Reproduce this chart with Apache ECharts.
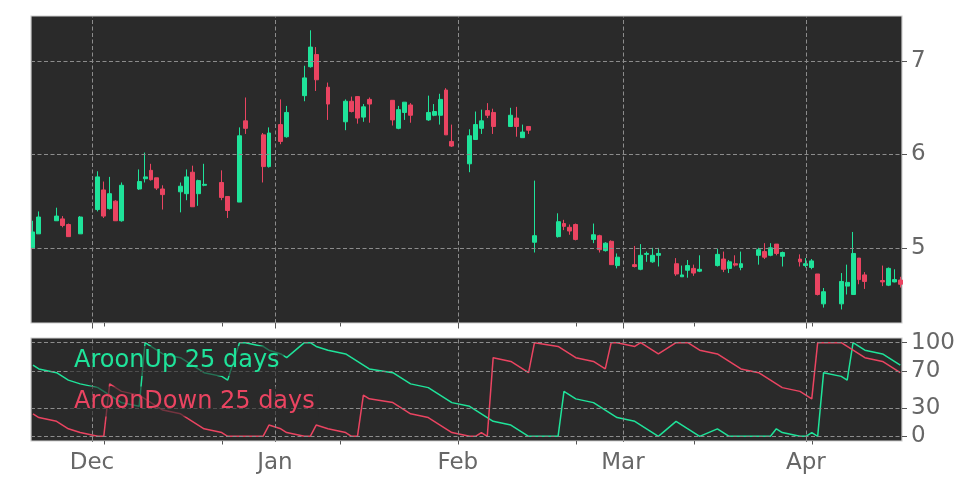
<!DOCTYPE html>
<html><head><meta charset="utf-8">
<script src="https://cdn.jsdelivr.net/npm/echarts@6/dist/echarts.min.js"></script>
<style>html,body{margin:0;padding:0;background:#fff}#c{width:972px;height:486px}</style>
</head><body><div id="c"></div>
<script>
const dates = [
 '2024-11-21','2024-11-22','2024-11-25','2024-11-26','2024-11-27','2024-11-29',
 '2024-12-02','2024-12-03','2024-12-04','2024-12-05','2024-12-06','2024-12-09','2024-12-10','2024-12-11','2024-12-12','2024-12-13',
 '2024-12-16','2024-12-17','2024-12-18','2024-12-19','2024-12-20','2024-12-23','2024-12-24','2024-12-26','2024-12-27','2024-12-30','2024-12-31',
 '2025-01-02','2025-01-03','2025-01-06','2025-01-07','2025-01-08','2025-01-10','2025-01-13','2025-01-14','2025-01-15','2025-01-16','2025-01-17',
 '2025-01-21','2025-01-22','2025-01-23','2025-01-24','2025-01-27','2025-01-28','2025-01-29','2025-01-30','2025-01-31',
 '2025-02-03','2025-02-04','2025-02-05','2025-02-06','2025-02-07','2025-02-10','2025-02-11','2025-02-12','2025-02-13','2025-02-14',
 '2025-02-18','2025-02-19','2025-02-20','2025-02-21','2025-02-24','2025-02-25','2025-02-26','2025-02-27','2025-02-28',
 '2025-03-03','2025-03-04','2025-03-05','2025-03-06','2025-03-07','2025-03-10','2025-03-11','2025-03-12','2025-03-13','2025-03-14',
 '2025-03-17','2025-03-18','2025-03-19','2025-03-20','2025-03-21','2025-03-24','2025-03-25','2025-03-26','2025-03-27','2025-03-28','2025-03-31',
 '2025-04-01','2025-04-02','2025-04-03','2025-04-04','2025-04-07','2025-04-08','2025-04-09','2025-04-10','2025-04-11',
 '2025-04-14','2025-04-15','2025-04-16','2025-04-17'
];
const opens = [
 5.00,5.15,5.29,5.31,5.25,5.15,
 5.41,5.62,5.42,5.50,5.29,5.63,5.74,5.83,5.75,5.63,
 5.60,5.58,5.81,5.58,5.67,5.70,5.55,5.49,6.36,6.21,5.87,
 6.32,6.19,6.63,6.94,7.07,6.72,6.35,6.57,6.62,6.40,6.59,
 6.58,6.28,6.45,6.53,6.37,6.42,6.42,6.69,6.14,
 5.90,6.16,6.28,6.47,6.45,6.30,6.39,6.18,6.30,5.06,
 5.12,5.26,5.22,5.25,5.09,5.13,4.97,5.07,4.81,
 4.82,4.77,4.93,4.85,4.92,4.83,4.69,4.76,4.78,4.75,
 4.81,4.88,4.78,4.83,4.79,4.92,4.96,4.92,5.04,4.91,4.88,
 4.81,4.79,4.72,4.40,4.40,4.59,4.50,4.89,4.71,
 4.65,4.60,4.635,4.655
];
const closes = [
 5.17,5.33,5.34,5.24,5.12,5.33,
 5.76,5.34,5.58,5.29,5.67,5.71,5.76,5.73,5.64,5.57,
 5.66,5.76,5.44,5.72,5.68,5.54,5.40,6.20,6.28,5.87,6.23,
 6.14,6.45,6.82,7.15,6.80,6.54,6.57,6.46,6.39,6.51,6.54,
 6.37,6.48,6.56,6.42,6.45,6.46,6.59,6.21,6.09,
 6.20,6.32,6.36,6.42,6.30,6.42,6.30,6.24,6.26,5.13,
 5.28,5.23,5.18,5.09,5.14,4.98,5.05,4.82,4.90,
 4.80,4.92,4.94,4.92,4.94,4.72,4.71,4.81,4.73,4.77,
 4.93,4.77,4.85,4.815,4.83,4.98,4.90,5.00,4.94,4.95,4.85,
 4.83,4.86,4.50,4.53,4.64,4.63,4.94,4.66,4.64,
 4.635,4.78,4.66,4.61
];
const lows = [
 4.99,5.15,5.29,5.22,5.12,5.15,
 5.39,5.32,5.41,5.29,5.28,5.62,5.70,5.72,5.62,5.41,
 5.38,5.51,5.44,5.45,5.66,5.51,5.32,5.49,6.22,5.70,5.86,
 6.11,6.18,6.57,6.93,6.68,6.37,6.26,6.45,6.33,6.35,6.34,
 6.31,6.27,6.37,6.34,6.36,6.41,6.32,6.21,6.08,
 5.81,6.16,6.22,6.39,6.22,6.30,6.19,6.18,6.22,4.95,
 5.11,5.19,5.14,5.08,5.05,4.95,4.96,4.82,4.78,
 4.79,4.76,4.85,4.84,4.80,4.70,4.69,4.68,4.70,4.74,
 4.80,4.74,4.73,4.80,4.76,4.82,4.88,4.91,4.92,4.80,4.80,
 4.79,4.77,4.49,4.36,4.34,4.50,4.50,4.61,4.56,
 4.59,4.59,4.63,4.575
];
const highs = [
 5.29,5.39,5.43,5.34,5.26,5.34,
 5.82,5.71,5.76,5.51,5.70,5.84,6.02,5.90,5.75,5.67,
 5.70,5.84,5.88,5.73,5.90,5.83,5.55,6.29,6.61,6.23,6.29,
 6.59,6.52,6.95,7.33,7.15,6.77,6.59,6.62,6.62,6.54,6.61,
 6.58,6.52,6.56,6.55,6.63,6.54,6.65,6.71,6.32,
 6.27,6.46,6.48,6.55,6.49,6.50,6.51,6.32,6.30,5.72,
 5.37,5.30,5.25,5.26,5.26,5.14,5.06,5.08,4.94,
 5.02,5.04,4.96,5.00,5.00,4.89,4.81,4.87,4.82,4.92,
 4.99,4.96,4.87,4.92,4.96,5.00,5.05,5.05,5.04,4.96,4.93,
 4.89,4.88,4.72,4.57,4.73,4.82,5.17,4.89,4.74,
 4.81,4.79,4.77,4.69
];
const aroonUp = [
 76,72,68,64,60,56,
 52,48,44,40,36,32,100,96,92,88,
 84,80,76,72,68,64,60,100,100,96,92,
 88,84,100,100,96,92,88,84,80,76,72,
 68,64,60,56,52,48,44,40,36,
 32,28,24,20,16,12,8,4,0,0,
 0,48,44,40,36,32,28,24,20,
 16,12,8,4,0,16,12,8,4,0,
 8,4,0,0,0,0,0,0,8,4,0,
 0,4,0,68,64,60,100,96,92,
 88,84,80,76
];
const aroonDown = [
 24,20,16,12,8,4,
 0,0,56,52,48,44,40,36,32,28,
 24,20,16,12,8,4,0,0,0,0,12,
 8,4,0,0,12,8,4,0,0,44,40,
 36,32,28,24,20,16,12,8,4,
 0,0,4,0,84,80,76,72,68,100,
 96,92,88,84,80,76,72,100,100,
 96,100,96,92,88,100,100,100,96,92,
 88,84,80,76,72,68,64,60,56,52,48,
 44,40,100,100,100,96,92,88,84,
 80,76,72,68
];
const monthTicks = ['2024-12-01','2025-01-01','2025-02-01','2025-03-01','2025-04-01'];
const monthNames = ['Jan','Feb','Mar','Apr','May','Jun','Jul','Aug','Sep','Oct','Nov','Dec'];
const minorTicks = ['2024-12-03','2024-12-23','2025-01-12','2025-02-01','2025-02-21','2025-03-13','2025-04-02'];
const priceTicks = [5, 6, 7];
const aroonTicks = [0, 30, 70, 100];
const legendLabels = ['AroonUp 25 days', 'AroonDown 25 days'];

const UP = '#1fe39a', DOWN = '#ea4461', BG = '#2a2a2a', GRIDC = '#8c8c8c', TXT = '#676767';
function ts(s) { const p = s.split('-'); return new Date(+p[0], +p[1] - 1, +p[2]).getTime(); }
const H = 3600 * 1000;
const XMIN = ts('2024-11-20') + 16 * H, XMAX = ts('2025-04-17') + 7 * H;
const majorTs = monthTicks.map(ts), minorTs = minorTicks.map(ts);

const candles = dates.map((d, i) => [ts(d), opens[i], closes[i], lows[i], highs[i]]);
const upLine = dates.map((d, i) => [ts(d), aroonUp[i]]);
const downLine = dates.map((d, i) => [ts(d), aroonDown[i]]);

const FONT = 'DejaVu Sans';
function xMain(gi, labels) {
  return {
    type: 'value', gridIndex: gi, min: XMIN, max: XMAX, position: 'bottom', scale: true,
    axisLine: { show: false },
    axisTick: { show: true, customValues: majorTs, length: 5.5, lineStyle: { color: '#555', width: 1 } },
    axisLabel: labels ? {
      show: true, customValues: majorTs, fontSize: 23, fontFamily: FONT, color: TXT, margin: 11,
      formatter: v => monthNames[new Date(v).getMonth()]
    } : { show: false },
    splitLine: { show: false }
  };
}
function xMinor(gi) {
  return {
    type: 'value', gridIndex: gi, min: XMIN, max: XMAX, position: 'bottom', scale: true,
    axisLine: { show: false },
    axisTick: { show: true, customValues: minorTs, length: 3.5, lineStyle: { color: '#555', width: 1 } },
    axisLabel: { show: false }, splitLine: { show: false }
  };
}
function yAx(gi, min, max, ticks) {
  return {
    type: 'value', gridIndex: gi, position: 'right', min: min, max: max,
    axisLine: { show: false },
    axisTick: { show: true, customValues: ticks, length: 5, lineStyle: { color: '#555', width: 1 } },
    axisLabel: { show: true, customValues: ticks, fontSize: 23, fontFamily: FONT, color: TXT, margin: 9 },
    splitLine: { show: false }
  };
}
const dash = { color: GRIDC, width: 1, type: [4, 2.5] };
function gridLines(xi, yi, yvals, y0) {
  return {
    type: 'line', xAxisIndex: xi, yAxisIndex: yi, data: [[XMIN, y0]], symbol: 'none', silent: true, z: 1,
    lineStyle: { opacity: 0 },
    markLine: {
      silent: true, symbol: ['none', 'none'], label: { show: false }, lineStyle: dash,
      emphasis: { disabled: true },
      data: majorTs.map(t => ({ xAxis: t })).concat(yvals.map(v => ({ yAxis: v })))
    }
  };
}

const chart = echarts.init(document.getElementById('c'));
chart.setOption({
  animation: false,
  backgroundColor: '#ffffff',
  grid: [
    { left: 31, right: 70, top: 16, height: 307, show: true, backgroundColor: BG, borderColor: '#cfcfcf', borderWidth: 1.2 },
    { left: 31, right: 70, top: 338, height: 103, show: true, backgroundColor: BG, borderColor: '#cfcfcf', borderWidth: 1.2 }
  ],
  xAxis: [xMain(0, false), xMinor(0), xMain(1, true), xMinor(1)],
  yAxis: [yAx(0, 4.195, 7.483, priceTicks), yAx(1, -5, 105, aroonTicks)],
  series: [
    gridLines(0, 0, priceTicks, 5),
    gridLines(2, 1, aroonTicks, 0),
    {
      type: 'candlestick', xAxisIndex: 0, yAxisIndex: 0, data: candles, barWidth: 4.4, z: 3,
      encode: { x: 0, y: [1, 2, 3, 4] },
      itemStyle: { color: UP, color0: DOWN, borderColor: UP, borderColor0: DOWN, borderWidth: 1 }
    },
    {
      type: 'line', xAxisIndex: 2, yAxisIndex: 1, data: upLine, showSymbol: false, z: 3,
      lineStyle: { color: UP, width: 1.5 }
    },
    {
      type: 'line', xAxisIndex: 2, yAxisIndex: 1, data: downLine, showSymbol: false, z: 3,
      lineStyle: { color: DOWN, width: 1.5 }
    }
  ],
  graphic: [
    { type: 'text', z: 100, x: 70, y: 361, style: { text: legendLabels[0], fill: UP, fontSize: 24, fontFamily: FONT, verticalAlign: 'middle', backgroundColor: 'rgba(42,42,42,0.62)', padding: [3, 4, 3, 4] } },
    { type: 'text', z: 100, x: 70, y: 401.5, style: { text: legendLabels[1], fill: DOWN, fontSize: 24, fontFamily: FONT, verticalAlign: 'middle', backgroundColor: 'rgba(42,42,42,0.62)', padding: [3, 4, 3, 4] } }
  ]
});
</script></body></html>
